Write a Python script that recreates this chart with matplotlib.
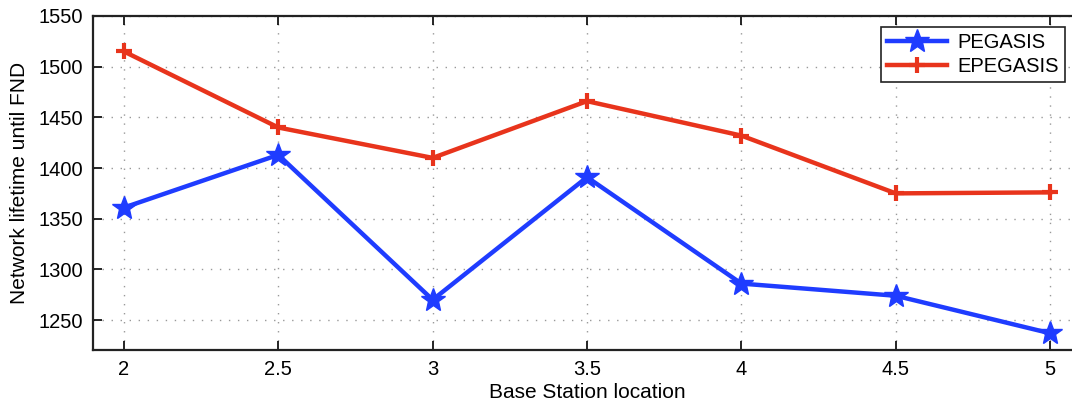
import matplotlib
matplotlib.use("Agg")
import matplotlib.pyplot as plt

plt.rcParams['font.family'] = ['Liberation Sans', 'DejaVu Sans']

# Base station positions and network lifetime (rounds until first node dies)
locations = [2, 2.5, 3, 3.5, 4, 4.5, 5]
pegasis = [1361, 1413, 1270, 1391, 1286, 1274, 1237]
epegasis = [1515, 1440, 1410, 1466, 1432, 1375, 1376]
x_ticks = [2, 2.5, 3, 3.5, 4, 4.5, 5]
x_tick_labels = ['2', '2.5', '3', '3.5', '4', '4.5', '5']
y_ticks = [1250, 1300, 1350, 1400, 1450, 1500, 1550]

fig = plt.figure(figsize=(10.72, 4.03), dpi=100)
ax = fig.add_axes([0.0868, 0.1303, 0.9216, 0.830])

ax.plot(locations, pegasis, color='#1f3cff', lw=3.2, marker='*',
        markersize=18, label='PEGASIS', zorder=3)
ax.plot(locations, epegasis, color='#e8341c', lw=3.2, marker='+',
        markersize=11, markeredgewidth=3, label='EPEGASIS', zorder=3)

ax.set_xlim(1.9, 5.1)
ax.set_ylim(1220, 1550)
ax.set_xticks(x_ticks)
ax.set_xticklabels(x_tick_labels)
ax.set_yticks(y_ticks)

ax.grid(True, linestyle=(0, (1, 5.5)), color='#999999', linewidth=1.0)
ax.tick_params(direction='in', length=6.5, width=1.2, labelsize=14.5,
               top=True, right=True, pad=7)
for s in ax.spines.values():
    s.set_linewidth(1.6)
    s.set_color('#222222')

ax.set_xlabel('Base Station location', fontsize=15, labelpad=3)
ax.set_ylabel('Network lifetime until FND', fontsize=15, labelpad=7)

leg = ax.legend(loc='upper right', bbox_to_anchor=(1065 / 1072, 1 - 27 / 403),
                bbox_transform=fig.transFigure, borderaxespad=0,
                fontsize=14.5, fancybox=False,
                framealpha=1, edgecolor='#222222', handlelength=3.0,
                borderpad=0.3, labelspacing=0.25, handletextpad=0.5)
leg.get_frame().set_linewidth(1.2)

fig.savefig('out.png', dpi=100)
